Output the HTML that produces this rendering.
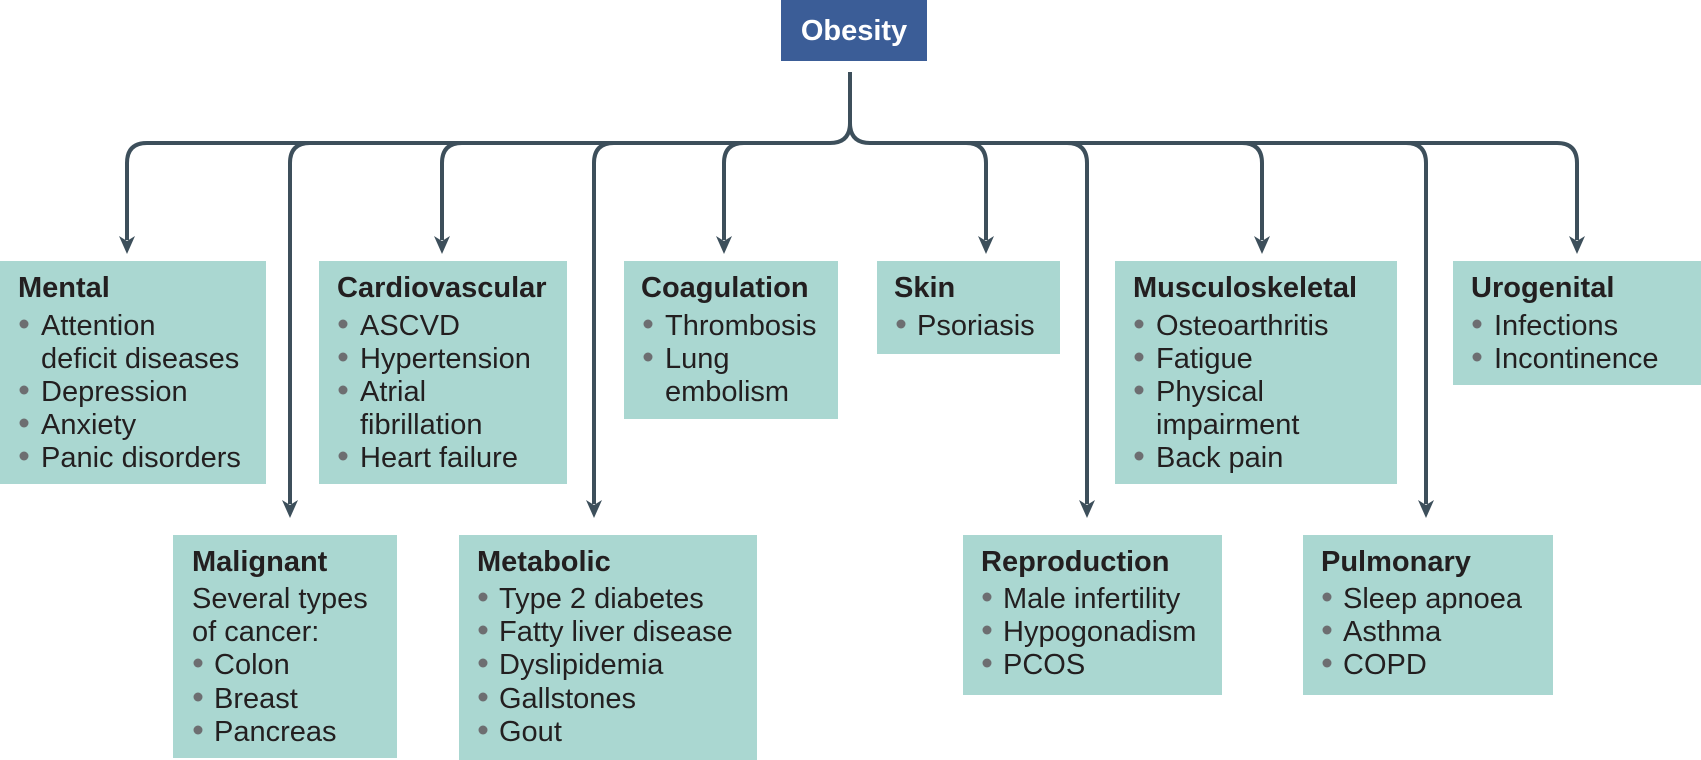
<!DOCTYPE html>
<html><head><meta charset="utf-8"><style>
html,body{margin:0;padding:0;background:#fff;}
svg{display:block;}
text{font-family:"Liberation Sans Narrow","Liberation Sans",sans-serif;fill:#231f20;font-size:29px;}
.t{font-weight:bold;}
.b{fill:#6d6e71;}
</style></head><body>
<svg width="1701" height="760" viewBox="0 0 1701 760" xmlns="http://www.w3.org/2000/svg">
<rect x="781" y="0" width="146" height="61" fill="#3b5d97"/>
<text x="854" y="40" text-anchor="middle" class="t" style="fill:#fff;font-size:29px">Obesity</text>

<g fill="none" stroke="#3d4f5b" stroke-width="4">
<path d="M850 72 V123 Q850 143 830 143 M850 123 Q850 143 870 143"/>
<path d="M147 143 H830 M870 143 H1557"/>
<path d="M147 143 Q127 143 127 163 V240"/>
<path d="M310 143 Q290 143 290 163 V504"/>
<path d="M462 143 Q442 143 442 163 V240"/>
<path d="M614 143 Q594 143 594 163 V504"/>
<path d="M744 143 Q724 143 724 163 V240"/>
<path d="M966 143 Q986 143 986 163 V240"/>
<path d="M1067 143 Q1087 143 1087 163 V504"/>
<path d="M1242 143 Q1262 143 1262 163 V240"/>
<path d="M1406 143 Q1426 143 1426 163 V504"/>
<path d="M1557 143 Q1577 143 1577 163 V240"/>
</g>
<g fill="#3d4f5b">
<path d="M127 254 L119 236 L127 241 L135 236Z"/>
<path d="M442 254 L434 236 L442 241 L450 236Z"/>
<path d="M724 254 L716 236 L724 241 L732 236Z"/>
<path d="M986 254 L978 236 L986 241 L994 236Z"/>
<path d="M1262 254 L1254 236 L1262 241 L1270 236Z"/>
<path d="M1577 254 L1569 236 L1577 241 L1585 236Z"/>
<path d="M290 518 L282 500 L290 505 L298 500Z"/>
<path d="M594 518 L586 500 L594 505 L602 500Z"/>
<path d="M1087 518 L1079 500 L1087 505 L1095 500Z"/>
<path d="M1426 518 L1418 500 L1426 505 L1434 500Z"/>
</g>

<g fill="#aad7d1">
<rect x="0" y="261" width="266" height="223"/>
<rect x="319" y="261" width="248" height="223"/>
<rect x="624" y="261" width="214" height="158"/>
<rect x="877" y="261" width="183" height="93"/>
<rect x="1115" y="261" width="282" height="223"/>
<rect x="1453" y="261" width="248" height="124"/>
<rect x="173" y="535" width="224" height="223"/>
<rect x="459" y="535" width="298" height="225"/>
<rect x="963" y="535" width="259" height="160"/>
<rect x="1303" y="535" width="250" height="160"/>
</g>

<text x="18" y="297" class="t">Mental</text>
<circle class="b" cx="24" cy="324" r="4.5"/><text x="41" y="335">Attention</text>
<text x="41" y="368">deficit diseases</text>
<circle class="b" cx="24" cy="390" r="4.5"/><text x="41" y="401">Depression</text>
<circle class="b" cx="24" cy="423" r="4.5"/><text x="41" y="434">Anxiety</text>
<circle class="b" cx="24" cy="456" r="4.5"/><text x="41" y="467">Panic disorders</text>

<text x="337" y="297" class="t">Cardiovascular</text>
<circle class="b" cx="343" cy="324" r="4.5"/><text x="360" y="335">ASCVD</text>
<circle class="b" cx="343" cy="357" r="4.5"/><text x="360" y="368">Hypertension</text>
<circle class="b" cx="343" cy="390" r="4.5"/><text x="360" y="401">Atrial</text>
<text x="360" y="434">fibrillation</text>
<circle class="b" cx="343" cy="456" r="4.5"/><text x="360" y="467">Heart failure</text>

<text x="641" y="297" class="t">Coagulation</text>
<circle class="b" cx="648" cy="324" r="4.5"/><text x="665" y="335">Thrombosis</text>
<circle class="b" cx="648" cy="357" r="4.5"/><text x="665" y="368">Lung</text>
<text x="665" y="401">embolism</text>

<text x="894" y="297" class="t">Skin</text>
<circle class="b" cx="901" cy="324" r="4.5"/><text x="917" y="335">Psoriasis</text>

<text x="1133" y="297" class="t">Musculoskeletal</text>
<circle class="b" cx="1139" cy="324" r="4.5"/><text x="1156" y="335">Osteoarthritis</text>
<circle class="b" cx="1139" cy="357" r="4.5"/><text x="1156" y="368">Fatigue</text>
<circle class="b" cx="1139" cy="390" r="4.5"/><text x="1156" y="401">Physical</text>
<text x="1156" y="434">impairment</text>
<circle class="b" cx="1139" cy="456" r="4.5"/><text x="1156" y="467">Back pain</text>

<text x="1471" y="297" class="t">Urogenital</text>
<circle class="b" cx="1477" cy="324" r="4.5"/><text x="1494" y="335">Infections</text>
<circle class="b" cx="1477" cy="357" r="4.5"/><text x="1494" y="368">Incontinence</text>

<text x="192" y="571" class="t">Malignant</text>
<text x="192" y="608">Several types</text>
<text x="192" y="641">of cancer:</text>
<circle class="b" cx="198" cy="663" r="4.5"/><text x="214" y="674">Colon</text>
<circle class="b" cx="198" cy="697" r="4.5"/><text x="214" y="708">Breast</text>
<circle class="b" cx="198" cy="730" r="4.5"/><text x="214" y="741">Pancreas</text>

<text x="477" y="571" class="t">Metabolic</text>
<circle class="b" cx="483" cy="597" r="4.5"/><text x="499" y="608">Type 2 diabetes</text>
<circle class="b" cx="483" cy="630" r="4.5"/><text x="499" y="641">Fatty liver disease</text>
<circle class="b" cx="483" cy="663" r="4.5"/><text x="499" y="674">Dyslipidemia</text>
<circle class="b" cx="483" cy="697" r="4.5"/><text x="499" y="708">Gallstones</text>
<circle class="b" cx="483" cy="730" r="4.5"/><text x="499" y="741">Gout</text>

<text x="981" y="571" class="t">Reproduction</text>
<circle class="b" cx="987" cy="597" r="4.5"/><text x="1003" y="608">Male infertility</text>
<circle class="b" cx="987" cy="630" r="4.5"/><text x="1003" y="641">Hypogonadism</text>
<circle class="b" cx="987" cy="663" r="4.5"/><text x="1003" y="674">PCOS</text>

<text x="1321" y="571" class="t">Pulmonary</text>
<circle class="b" cx="1327" cy="597" r="4.5"/><text x="1343" y="608">Sleep apnoea</text>
<circle class="b" cx="1327" cy="630" r="4.5"/><text x="1343" y="641">Asthma</text>
<circle class="b" cx="1327" cy="663" r="4.5"/><text x="1343" y="674">COPD</text>
</svg>
</body></html>
